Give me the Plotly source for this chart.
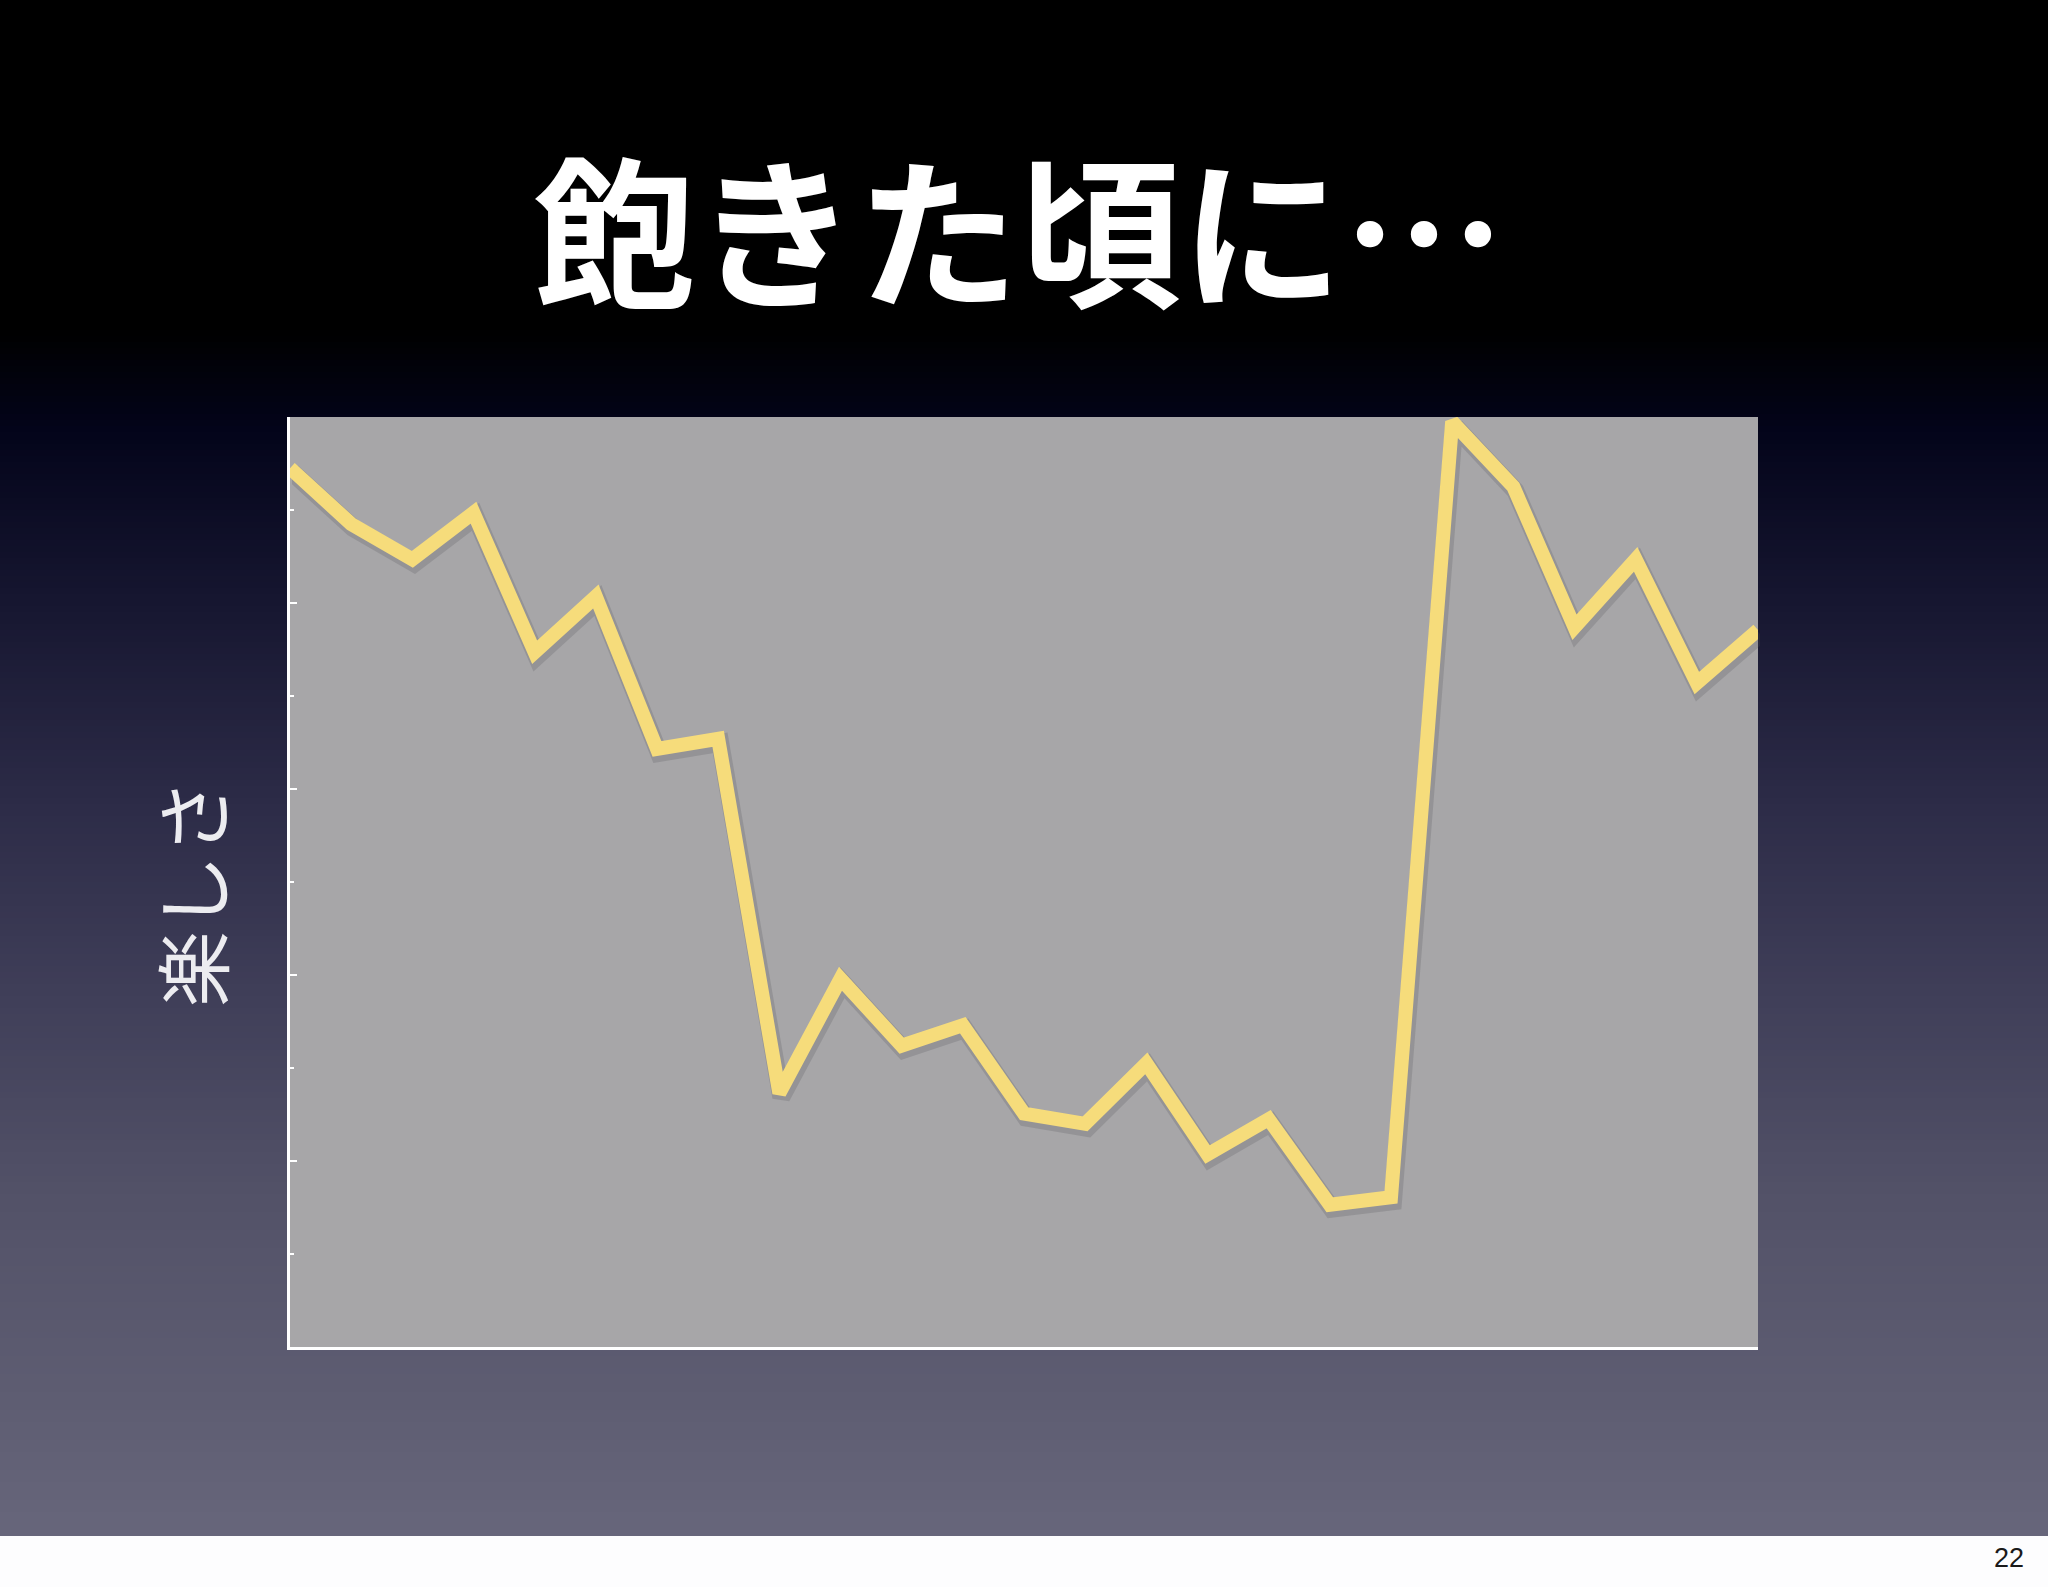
import plotly.graph_objects as go

# data
steps = list(range(25))
fun = [94.5, 88.5, 84.7, 89.7, 74.7, 80.7, 64.3, 65.4, 27.3, 39.6,
       32.4, 34.6, 25.1, 24.0, 30.5, 20.7, 24.5, 15.3, 16.1, 99.5,
       92.5, 77.4, 84.7, 71.4, 77.1]

title_text = "飽きた頃に…"
y_title = "楽しさ"
page_no = "22"

W, H = 2048, 1587


def px_x(v):
    return v / W


def px_y(v):
    return 1 - v / H


def hex_rgb(h):
    h = h.lstrip("#")
    return tuple(int(h[i:i + 2], 16) for i in (0, 2, 4))


# background gradient stops (pixel y from top, colour)
grad_stops = [
    (0, "#000000"), (330, "#000000"), (430, "#03041a"), (600, "#161630"),
    (800, "#2c2b47"), (1000, "#403f59"), (1200, "#535268"),
    (1400, "#5e5d72"), (1536, "#67667b"),
]


def grad_color(y):
    for (y0, c0), (y1, c1) in zip(grad_stops[:-1], grad_stops[1:]):
        if y0 <= y <= y1:
            t = (y - y0) / (y1 - y0) if y1 > y0 else 0
            a, b = hex_rgb(c0), hex_rgb(c1)
            r = [round(a[i] + (b[i] - a[i]) * t) for i in range(3)]
            return f"rgb({r[0]},{r[1]},{r[2]})"
    return grad_stops[-1][1]


shapes = []
band = 6
for y in range(0, 1536, band):
    shapes.append(dict(
        type="rect", xref="paper", yref="paper", layer="below",
        x0=0, x1=1, y0=px_y(min(y + band + 1, 1536)), y1=px_y(y),
        fillcolor=grad_color(y + band / 2), line=dict(width=0),
    ))

# white footer strip
shapes.append(dict(
    type="rect", xref="paper", yref="paper", layer="below",
    x0=0, x1=1, y0=0, y1=px_y(1536),
    fillcolor="#fdfdfe", line=dict(width=0),
))

# plot area
plot_l, plot_r, plot_t, plot_b = 290, 1758, 417, 1347
shapes.append(dict(
    type="rect", xref="paper", yref="paper", layer="below",
    x0=px_x(plot_l), x1=px_x(plot_r), y0=px_y(plot_b), y1=px_y(plot_t),
    fillcolor="#a7a6a8", line=dict(width=0),
))

fig = go.Figure()

# soft shadow under the line
fig.add_trace(go.Scatter(
    x=steps, y=fun, mode="lines", xaxis="x", yaxis="y",
    line=dict(color="rgba(80,80,85,0.22)", width=18),
    hoverinfo="skip", showlegend=False,
))

fig.add_trace(go.Scatter(
    x=steps, y=fun, mode="lines", xaxis="x2", yaxis="y2",
    line=dict(color="#f6dc7b", width=14, shape="linear"),
    showlegend=False,
))

sx, sy = 2, 4
fig.update_layout(
    width=W, height=H,
    margin=dict(l=0, r=0, t=0, b=0),
    paper_bgcolor="#000000",
    plot_bgcolor="rgba(0,0,0,0)",
    shapes=shapes,
    xaxis=dict(domain=[px_x(plot_l + sx), px_x(plot_r + sx)], range=[0, 24],
               visible=False, anchor="y"),
    yaxis=dict(domain=[px_y(plot_b + sy), px_y(plot_t + sy)], range=[0, 100],
               visible=False, anchor="x"),
    xaxis2=dict(domain=[px_x(plot_l), px_x(plot_r)], range=[0, 24],
                anchor="y2", showgrid=False, zeroline=False,
                showticklabels=False, ticks="",
                showline=True, linecolor="#ffffff", linewidth=3),
    yaxis2=dict(domain=[px_y(plot_b), px_y(plot_t)], range=[0, 100],
                anchor="x2", showgrid=False, zeroline=False,
                showticklabels=False, ticks="inside", tick0=0, dtick=20,
                ticklen=7, tickwidth=2, tickcolor="#ffffff",
                minor=dict(ticks="inside", dtick=10, ticklen=4,
                           tickwidth=2, tickcolor="#ffffff"),
                showline=True, linecolor="#ffffff", linewidth=3),
    annotations=[
        dict(text=f"<b>{title_text}</b>", xref="paper", yref="paper",
             x=px_x(1019), y=px_y(226), xanchor="center", yanchor="middle",
             showarrow=False,
             font=dict(family="Noto Sans CJK JP", size=162, color="#ffffff")),
        dict(text=y_title, xref="paper", yref="paper",
             x=px_x(190), y=px_y(893), xanchor="center", yanchor="middle",
             textangle=-90, showarrow=False,
             font=dict(family="Noto Sans CJK JP", size=76, color="#ececf0")),
        dict(text=page_no, xref="paper", yref="paper",
             x=px_x(2026), y=px_y(1558), xanchor="right", yanchor="middle",
             showarrow=False,
             font=dict(family="Liberation Sans", size=27, color="#1a1a1a")),
    ],
)

fig.write_html(
    "out.html",
    config={"displayModeBar": False},
    post_script="document.body.style.margin='0';document.body.style.overflow='hidden';",
)
